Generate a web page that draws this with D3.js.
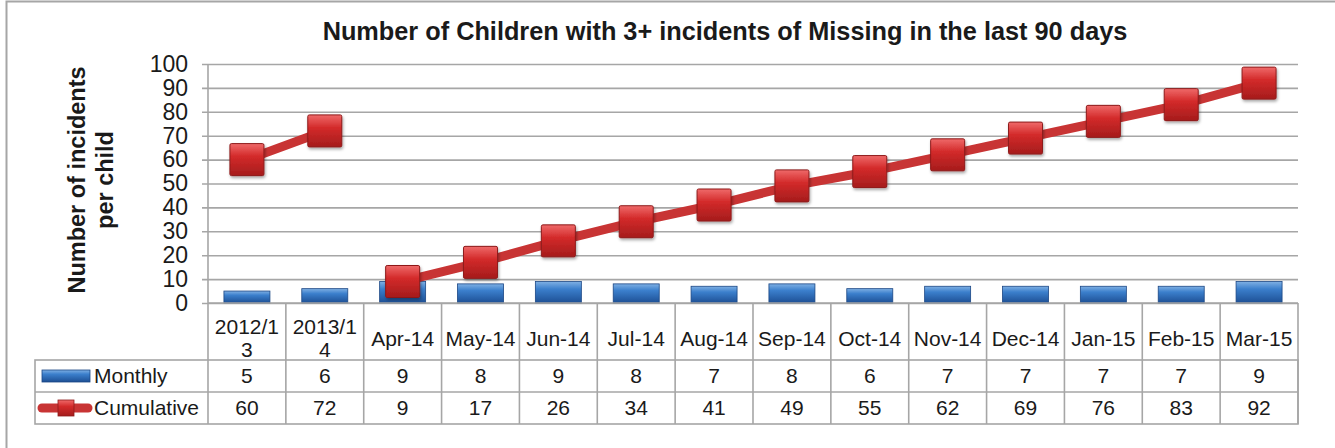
<!DOCTYPE html>
<meta charset="utf-8">
<style>
body { margin: 0; background: #fff; }
text { font-family: "Liberation Sans", Arial, sans-serif; fill: #1a1a1a; }
.title { font-size: 25.3px; font-weight: bold; }
.ytitle { font-size: 23.5px; font-weight: bold; }
.tick text { font-size: 23px; }
.grid line { stroke: #a6a6a6; stroke-width: 1.6px; }
.cell { font-size: 21px; }
.tbl { stroke: #a6a6a6; stroke-width: 1.6px; fill: none; }
</style>
<body>
<script src="https://d3js.org/d3.v7.min.js"></script>
<script>

// data
var categories = ["2012/13", "2013/14", "Apr-14", "May-14", "Jun-14", "Jul-14", "Aug-14",
                  "Sep-14", "Oct-14", "Nov-14", "Dec-14", "Jan-15", "Feb-15", "Mar-15"];
var monthly    = [5, 6, 9, 8, 9, 8, 7, 8, 6, 7, 7, 7, 7, 9];
var cumulative = [60, 72, 9, 17, 26, 34, 41, 49, 55, 62, 69, 76, 83, 92];
// line is broken between the yearly totals and the monthly run
var lineGroups = [["2012/13", "2013/14"],
                  ["Apr-14", "May-14", "Jun-14", "Jul-14", "Aug-14", "Sep-14", "Oct-14",
                   "Nov-14", "Dec-14", "Jan-15", "Feb-15", "Mar-15"]];
var yTicks = [0, 10, 20, 30, 40, 50, 60, 70, 80, 90, 100];
var seriesNames = ["Monthly", "Cumulative"];

var W = 1335, H = 448;
var plot = {left: 208, right: 1298, top: 64, bottom: 303};
var rows = {head: 360, monthly: 392, cum: 424};
var legendLeft = 35;

var svg = d3.select("body").append("svg")
    .attr("width", W)
    .attr("height", H);

var defs = svg.append("defs");

var bg = defs.append("linearGradient").attr("id", "barGrad")
    .attr("x1", 0).attr("y1", 0).attr("x2", 0).attr("y2", 1);
bg.append("stop").attr("offset", "0%").attr("stop-color", "#7fb0e4");
bg.append("stop").attr("offset", "35%").attr("stop-color", "#3b7fcc");
bg.append("stop").attr("offset", "100%").attr("stop-color", "#1d4f94");

var mg = defs.append("linearGradient").attr("id", "mkGrad")
    .attr("x1", 0).attr("y1", 0).attr("x2", 0).attr("y2", 1);
mg.append("stop").attr("offset", "0%").attr("stop-color", "#ef6a6a");
mg.append("stop").attr("offset", "40%").attr("stop-color", "#d32a2a");
mg.append("stop").attr("offset", "100%").attr("stop-color", "#a51c1c");

var sh = defs.append("filter").attr("id", "shadow")
    .attr("x", "-30%").attr("y", "-30%").attr("width", "160%").attr("height", "160%");
sh.append("feDropShadow").attr("dx", 1).attr("dy", 2).attr("stdDeviation", 1.5)
    .attr("flood-color", "#000").attr("flood-opacity", 0.35);

// outer frame
svg.append("rect")
    .attr("x", 6.5).attr("y", 1.5)
    .attr("width", W + 20).attr("height", H + 20)
    .style("fill", "none").style("stroke", "#a6a6a6").style("stroke-width", 2);

var x = d3.scaleBand().domain(categories).range([plot.left, plot.right]).padding(0);
var y = d3.scaleLinear().domain([0, 100]).range([plot.bottom, plot.top]);

svg.append("text")
    .attr("class", "title")
    .attr("x", 725)
    .attr("y", 40)
    .style("text-anchor", "middle")
    .text("Number of Children with 3+ incidents of Missing in the last 90 days");

var yt = svg.append("text")
    .attr("class", "ytitle")
    .attr("transform", "translate(85,180) rotate(-90)")
    .style("text-anchor", "middle");
yt.append("tspan").attr("x", 0).attr("dy", 0).text("Number of incidents");
yt.append("tspan").attr("x", 0).attr("dy", 28).text("per child");

// gridlines + y axis
svg.append("g")
    .attr("class", "grid")
    .attr("transform", "translate(" + plot.right + ",0)")
    .call(d3.axisLeft(y).tickValues(yTicks).tickSize(plot.right - plot.left + 6).tickPadding(14))
    .call(function(g) { g.select(".domain").remove(); });

svg.append("line")
    .attr("x1", plot.left).attr("x2", plot.left)
    .attr("y1", plot.top).attr("y2", rows.cum)
    .attr("class", "tbl");

// bars
var bw = 46;
svg.selectAll(".bar")
    .data(categories)
    .enter().append("rect")
      .attr("class", "bar")
      .attr("x", function(d) { return x(d) + x.bandwidth() / 2 - bw / 2; })
      .attr("y", function(d, i) { return y(monthly[i]); })
      .attr("width", bw)
      .attr("height", function(d, i) { return y(0) - y(monthly[i]); })
      .style("fill", "url(#barGrad)")
      .style("stroke", "#1b4684")
      .style("stroke-width", 0.8);

// cumulative line
var line = d3.line()
    .x(function(d) { return x(d) + x.bandwidth() / 2; })
    .y(function(d) { return y(cumulative[categories.indexOf(d)]); });

svg.selectAll(".cumline")
    .data(lineGroups)
    .enter().append("path")
      .attr("class", "cumline")
      .attr("d", line)
      .style("fill", "none")
      .style("stroke", "#c83434")
      .style("stroke-width", 9)
      .style("stroke-linecap", "round")
      .style("stroke-linejoin", "round");

var ms = 34, mh = 32;
svg.selectAll(".marker")
    .data(categories)
    .enter().append("rect")
      .attr("class", "marker")
      .attr("x", function(d) { return x(d) + x.bandwidth() / 2 - ms / 2; })
      .attr("y", function(d, i) { return y(cumulative[i]) - mh / 2; })
      .attr("width", ms)
      .attr("height", mh)
      .attr("rx", 1.5)
      .style("fill", "url(#mkGrad)")
      .style("stroke", "#8e1a1a")
      .style("stroke-width", 1)
      .attr("filter", "url(#shadow)");

// data table
var tbl = svg.append("g");
tbl.append("rect")
    .attr("class", "tbl")
    .attr("x", legendLeft).attr("y", rows.head)
    .attr("width", plot.right - legendLeft).attr("height", rows.cum - rows.head);
tbl.append("line").attr("class", "tbl")
    .attr("x1", legendLeft).attr("x2", plot.right).attr("y1", rows.monthly).attr("y2", rows.monthly);
tbl.append("line").attr("class", "tbl")
    .attr("x1", plot.left).attr("x2", plot.right).attr("y1", plot.bottom).attr("y2", plot.bottom);
tbl.selectAll(".vline")
    .data(categories)
    .enter().append("line")
      .attr("class", "tbl")
      .attr("x1", function(d) { return x(d) + x.bandwidth(); })
      .attr("x2", function(d) { return x(d) + x.bandwidth(); })
      .attr("y1", plot.bottom).attr("y2", rows.cum);

// header labels, wrapped like the spreadsheet does
function wrapLabel(s) { return s.length > 6 ? [s.slice(0, 6), s.slice(6)] : [s]; }
var head = tbl.selectAll(".head")
    .data(categories)
    .enter().append("text")
      .attr("class", "cell")
      .style("text-anchor", "middle")
      .attr("x", function(d) { return x(d) + x.bandwidth() / 2; })
      .attr("y", function(d) { return wrapLabel(d).length > 1 ? 334 : 346; });
head.each(function(d) {
  var t = d3.select(this);
  wrapLabel(d).forEach(function(part, k) {
    t.append("tspan").attr("x", t.attr("x")).attr("dy", k ? 23 : 0).text(part);
  });
});

[monthly, cumulative].forEach(function(vals, r) {
  var cy = r ? (rows.monthly + rows.cum) / 2 : (rows.head + rows.monthly) / 2;
  tbl.selectAll(".v" + r)
    .data(vals)
    .enter().append("text")
      .attr("class", "cell")
      .style("text-anchor", "middle")
      .attr("x", function(d, i) { return x(categories[i]) + x.bandwidth() / 2; })
      .attr("y", cy + 7)
      .text(function(d) { return d; });
  tbl.append("text")
    .attr("class", "cell")
    .attr("x", 94)
    .attr("y", cy + 7)
    .text(seriesNames[r]);
});

// legend keys
var my = (rows.head + rows.monthly) / 2;
tbl.append("rect")
    .attr("x", 42).attr("y", my - 6).attr("width", 48).attr("height", 12)
    .style("fill", "url(#barGrad)").style("stroke", "#1b4684").style("stroke-width", 0.8);
var cy2 = (rows.monthly + rows.cum) / 2;
tbl.append("line")
    .attr("x1", 42).attr("x2", 88).attr("y1", cy2).attr("y2", cy2)
    .style("stroke", "#c83434").style("stroke-width", 9).style("stroke-linecap", "round");
tbl.append("rect")
    .attr("x", 58).attr("y", cy2 - 8).attr("width", 16).attr("height", 16)
    .style("fill", "url(#mkGrad)").style("stroke", "#8e1a1a").style("stroke-width", 0.8);

</script>
</body>
